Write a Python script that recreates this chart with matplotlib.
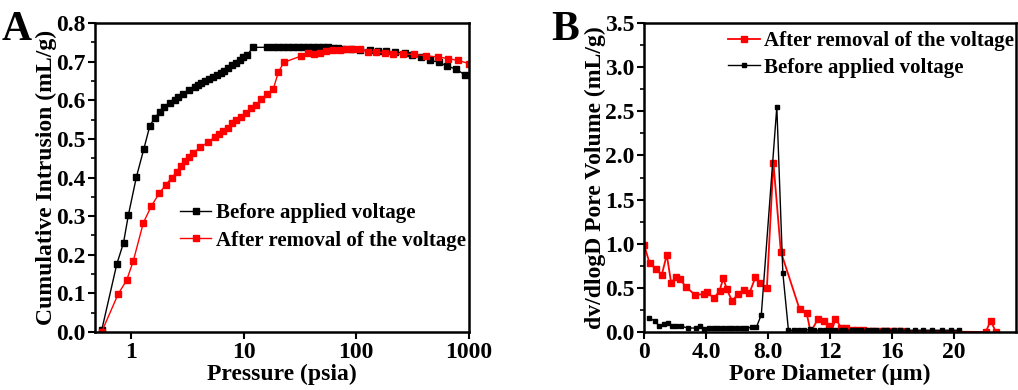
import numpy as np
import matplotlib
matplotlib.use("Agg")
import matplotlib.pyplot as plt
from matplotlib.ticker import MultipleLocator, FixedLocator, NullLocator

plt.rcParams['font.family'] = ['Liberation Serif', 'DejaVu Serif']
plt.rcParams['font.weight'] = 'bold'
plt.rcParams['axes.labelweight'] = 'bold'

# panel A: cumulative intrusion vs pressure
before_p = [0.55, 0.75, 0.86, 0.95, 1.12, 1.30, 1.47, 1.63, 1.81, 1.98, 2.22, 2.45, 2.63,
            2.87, 3.29, 3.70, 3.95, 4.23, 4.59, 4.95, 5.30, 5.75, 6.24, 6.73, 7.30, 7.92,
            8.54, 9.26, 9.91, 10.8, 12.0, 16.0, 18.3, 20.3, 22.4, 24.8, 27.5, 30.5, 33.8,
            37.4, 41.4, 45.8, 50.8, 56.2, 62.3, 69.0, 76.4, 90.6, 107, 132, 156, 185, 219,
            269, 315, 378, 448, 542, 638, 773, 916]
before_v = [0.004, 0.176, 0.231, 0.303, 0.402, 0.473, 0.533, 0.555, 0.570, 0.583, 0.592,
            0.600, 0.608, 0.616, 0.627, 0.634, 0.640, 0.645, 0.650, 0.655, 0.660, 0.665,
            0.670, 0.677, 0.684, 0.690, 0.697, 0.704, 0.711, 0.716, 0.737, 0.737, 0.738,
            0.738, 0.738, 0.738, 0.739, 0.739, 0.739, 0.739, 0.738, 0.738, 0.737, 0.737,
            0.736, 0.735, 0.733, 0.732, 0.730, 0.729, 0.728, 0.727, 0.725, 0.722, 0.716,
            0.711, 0.704, 0.698, 0.689, 0.680, 0.666]
after_p = [0.55, 0.77, 0.92, 1.05, 1.29, 1.52, 1.78, 2.04, 2.30, 2.54, 2.76, 3.01, 3.27,
           3.57, 4.09, 4.85, 5.56, 6.07, 6.59, 7.20, 7.81, 8.54, 9.45, 10.5, 11.7, 13.0,
           14.4, 16.0, 18.3, 20.3, 22.7, 32.0, 37.4, 42.0, 47.4, 54.3, 62.3, 71.3, 81.7,
           93.7, 107, 127, 151, 179, 212, 260, 324, 419, 531, 651, 800, 1000]
after_v = [0.0, 0.098, 0.135, 0.184, 0.283, 0.326, 0.359, 0.381, 0.399, 0.414, 0.431,
           0.444, 0.452, 0.463, 0.478, 0.491, 0.506, 0.512, 0.520, 0.529, 0.540, 0.549,
           0.557, 0.568, 0.579, 0.589, 0.602, 0.615, 0.628, 0.672, 0.698, 0.714, 0.723,
           0.721, 0.723, 0.727, 0.730, 0.731, 0.732, 0.733, 0.733, 0.725, 0.725, 0.723,
           0.721, 0.719, 0.719, 0.715, 0.712, 0.708, 0.703, 0.695]

# panel B: pore size distribution
b_red_d = [0.0, 0.36, 0.79, 1.15, 1.47, 1.75, 2.07, 2.32, 2.71, 3.30, 3.88, 4.09, 4.52,
           4.88, 5.12, 5.33, 5.69, 6.06, 6.44, 6.80, 7.19, 7.51, 7.93, 8.35, 8.83, 10.04,
           10.50, 10.75, 11.24, 11.60, 11.92, 12.10, 12.35, 12.73, 13.05, 13.40, 13.75,
           14.10, 14.45, 14.80, 15.20, 15.55, 15.90, 16.25, 16.60, 22.05, 22.37, 22.70]
b_red_v = [0.99, 0.78, 0.71, 0.65, 0.874, 0.56, 0.62, 0.60, 0.51, 0.42, 0.43, 0.45, 0.38,
           0.47, 0.61, 0.49, 0.35, 0.43, 0.48, 0.44, 0.62, 0.55, 0.50, 1.92, 0.91, 0.257,
           0.21, 0.0, 0.15, 0.12, 0.07, 0.0, 0.15, 0.05, 0.05, 0.02, 0.02, 0.02, 0.01,
           0.01, 0.01, 0.01, 0.01, 0.01, 0.01, 0.0, 0.13, 0.0]
b_blk_d = [0.32, 0.68, 1.0, 1.28, 1.54, 1.81, 2.07, 2.39, 2.86, 3.35, 3.62, 3.88, 4.2,
           4.5, 4.8, 5.1, 5.4, 5.7, 6.0, 6.3, 6.6, 6.97, 7.25, 7.57, 8.57, 8.96, 9.32,
           9.65, 10.0, 10.35, 10.7, 11.0, 11.35, 11.7, 12.0, 12.35, 12.7, 13.0, 13.4, 13.7,
           14.0, 14.4, 14.7, 15.0, 15.4, 15.7, 16.1, 16.5, 17.0, 17.5, 18.0, 18.6, 19.2,
           19.8, 20.3]
b_blk_v = [0.158, 0.128, 0.064, 0.09, 0.10, 0.072, 0.064, 0.064, 0.045, 0.045, 0.064,
           0.038, 0.04, 0.04, 0.04, 0.04, 0.04, 0.04, 0.04, 0.04, 0.045, 0.053, 0.053, 0.196,
           2.55, 0.667, 0.02, 0.02, 0.02, 0.02, 0.03, 0.02, 0.02, 0.02, 0.02, 0.02, 0.02,
           0.02, 0.02, 0.02, 0.02, 0.02, 0.02, 0.02, 0.02, 0.02, 0.02, 0.02, 0.02, 0.02,
           0.02, 0.02, 0.02, 0.02, 0.02]

fig = plt.figure(figsize=(10.18, 3.9), dpi=100)
axA = fig.add_axes([0.0933, 0.1487, 0.3674, 0.7923])
axB = fig.add_axes([0.6326, 0.1487, 0.3654, 0.7923])

axA.plot(before_p, before_v, '-s', color='black', lw=1, ms=4.5, label='Before applied voltage')
axA.plot(after_p, after_v, '-s', color='red', lw=1, ms=4.5, label='After removal of the voltage')
axA.set_xscale('log')
axA.set_xlim(0.48, 1000)
axA.set_ylim(0, 0.8)
axA.xaxis.set_major_locator(FixedLocator([1, 10, 100, 1000]))
axA.set_xticklabels(['1', '10', '100', '1000'])
axA.xaxis.set_minor_locator(NullLocator())
axA.yaxis.set_major_locator(MultipleLocator(0.1))
axA.yaxis.set_minor_locator(MultipleLocator(0.05))
axA.set_xlabel('Pressure (psia)', fontsize=17, labelpad=1)
axA.set_ylabel('Cumulative Intrusion (mL/g)', fontsize=17, labelpad=-1)
axA.legend(loc='center left', bbox_to_anchor=(0.2, 0.34), frameon=False, fontsize=15,
           handlelength=1.5, handletextpad=0.2, borderpad=0, labelspacing=0.35)
axA.text(-0.25, 1.04, 'A', transform=axA.transAxes, fontsize=30, fontweight='bold',
         va='top', ha='left')

axB.plot(b_red_d, b_red_v, '-s', color='red', lw=1.3, ms=5, label='After removal of the voltage')
axB.plot(b_blk_d, b_blk_v, '-s', color='black', lw=1, ms=3.5, label='Before applied voltage')
axB.set_xlim(0, 24)
axB.set_ylim(0, 3.5)
axB.set_xticks([0, 4, 8, 12, 16, 20])
axB.set_xticklabels(['0', '4.0', '8.0', '12', '16', '20'])
axB.yaxis.set_major_locator(MultipleLocator(0.5))
axB.yaxis.set_minor_locator(MultipleLocator(0.25))
axB.set_xlabel('Pore Diameter (\u03bcm)', fontsize=17, labelpad=1)
axB.set_ylabel('dv/dlogD Pore Volume (mL/g)', fontsize=17, labelpad=-1)
axB.legend(loc='upper right', bbox_to_anchor=(1.0, 0.98), frameon=False, fontsize=15,
           handlelength=1.5, handletextpad=0.2, borderpad=0, labelspacing=0.3,
           borderaxespad=0.1)
axB.text(-0.25, 1.04, 'B', transform=axB.transAxes, fontsize=30, fontweight='bold',
         va='top', ha='left')

for ax in (axA, axB):
    for s in ax.spines.values():
        s.set_linewidth(1.8)
    ax.tick_params(which='major', direction='out', length=5, width=1.5, labelsize=17,
                   top=False, right=False, pad=2)
    ax.tick_params(which='minor', direction='out', length=3, width=1.2, top=False, right=False)

fig.savefig('out.png', dpi=100)
